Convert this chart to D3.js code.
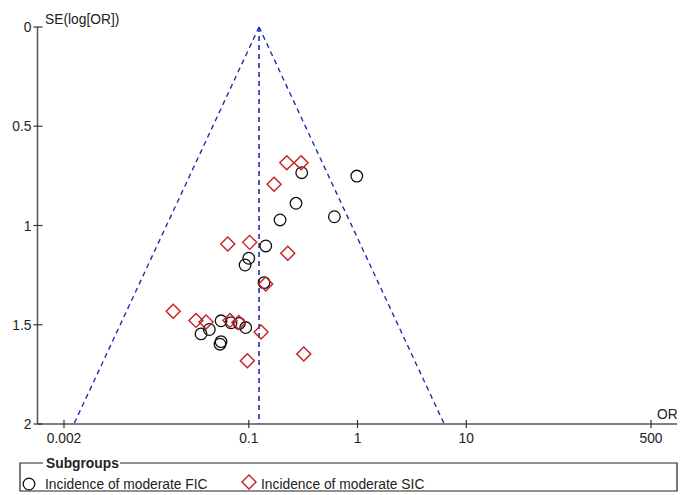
<!DOCTYPE html>
<html><head><meta charset="utf-8">
<script src="https://cdn.jsdelivr.net/npm/d3@7"></script>
<style>body{margin:0;background:#fff}svg{display:block}text{font-family:"Liberation Sans",Arial,sans-serif;fill:#222}</style>
</head><body><svg id="c" width="681" height="495"></svg>
<script>
const xTicks = [0.002, 0.1, 1, 10, 500];
const xTickLabels = ["0.002", "0.1", "1", "10", "500"];
const yTicks = [0, 0.5, 1, 1.5, 2];
const yTickLabels = ["0", "0.5", "1", "1.5", "2"];
const seriesNames = ["Incidence of moderate FIC", "Incidence of moderate SIC"];
const pooledOR = 0.1244;
const ficOR = [0.307,0.985,0.272,0.613,0.194,0.1433,0.100,0.0925,0.1383,0.0556,0.0687,0.0819,0.0938,0.0434,0.0364,0.0556,0.0544];
const ficSE = [0.734,0.751,0.888,0.956,0.972,1.103,1.165,1.199,1.288,1.480,1.490,1.493,1.514,1.524,1.546,1.585,1.598];
const sicOR = [0.2237,0.303,0.171,0.0641,0.102,0.2285,0.1433,0.0202,0.0327,0.0405,0.0672,0.0810,0.1298,0.0971,0.3206];
const sicSE = [0.684,0.684,0.792,1.093,1.085,1.140,1.295,1.432,1.478,1.486,1.478,1.489,1.537,1.681,1.647];

const svg = d3.select("#c");
const fs = 13.8;
const x0 = 37.5, yTop = 27, yBot = 424, xRight = 677;
const x = d3.scaleLog().domain([0.002, 500]).range([64, 651]);
const y = d3.scaleLinear().domain([0, 2]).range([yTop, yBot]);

// funnel
const blue = "#1f2fb0";
const z = 1.96;
const pLeft = pooledOR * Math.exp(-z * 2), pRight = pooledOR * Math.exp(z * 2);
const dash = "5,4";
svg.append("line").attr("x1", x(pooledOR)).attr("y1", y(0)).attr("x2", x(pooledOR)).attr("y2", y(2))
  .attr("stroke", blue).attr("stroke-width", 1.6).attr("stroke-dasharray", dash);
svg.append("line").attr("x1", x(pooledOR)).attr("y1", y(0)).attr("x2", x(pLeft)).attr("y2", y(2))
  .attr("stroke", blue).attr("stroke-width", 1.4).attr("stroke-dasharray", dash);
svg.append("line").attr("x1", x(pooledOR)).attr("y1", y(0)).attr("x2", x(pRight)).attr("y2", y(2))
  .attr("stroke", blue).attr("stroke-width", 1.4).attr("stroke-dasharray", dash);

// axes
const axCol = "#555";
svg.append("line").attr("x1", x0).attr("y1", yTop).attr("x2", x0).attr("y2", yBot).attr("stroke", axCol).attr("stroke-width", 1.5);
svg.append("line").attr("x1", x0).attr("y1", yBot).attr("x2", xRight).attr("y2", yBot).attr("stroke", axCol).attr("stroke-width", 1.5);
xTicks.forEach((t, i) => {
  svg.append("line").attr("x1", x(t)).attr("x2", x(t)).attr("y1", yBot - 4).attr("y2", yBot + 4).attr("stroke", "#333").attr("stroke-width", 1.2);
  svg.append("text").attr("x", x(t)).attr("y", yBot + 19).attr("text-anchor", "middle").attr("font-size", fs).text(xTickLabels[i]);
});
yTicks.forEach((t, i) => {
  svg.append("line").attr("x1", x0 - 4).attr("x2", x0 + 5).attr("y1", y(t)).attr("y2", y(t)).attr("stroke", "#333").attr("stroke-width", 1.2);
  svg.append("text").attr("x", x0 - 6).attr("y", y(t) + 5).attr("text-anchor", "end").attr("font-size", fs).text(yTickLabels[i]);
});
svg.append("text").attr("x", 45).attr("y", 24).attr("font-size", fs).text("SE(log[OR])");
svg.append("text").attr("x", 657).attr("y", 419).attr("font-size", fs).text("OR");

// points
const red = "#c42020";
const diamond = (cx, cy, r) => `M${cx},${cy - r}L${cx + r},${cy}L${cx},${cy + r}L${cx - r},${cy}Z`;
svg.append("g").selectAll("circle").data(ficOR.map((o, i) => [o, ficSE[i]])).join("circle")
  .attr("cx", d => x(d[0])).attr("cy", d => y(d[1])).attr("r", 5.8)
  .attr("fill", "none").attr("stroke", "#111").attr("stroke-width", 1.3);
svg.append("g").selectAll("path").data(sicOR.map((o, i) => [o, sicSE[i]])).join("path")
  .attr("d", d => diamond(x(d[0]), y(d[1]), 7))
  .attr("fill", "none").attr("stroke", red).attr("stroke-width", 1.4);

// legend
const lg = svg.append("g");
const lx1 = 20, lx2 = 677, ly1 = 463, ly2 = 491;
lg.append("path").attr("d", `M43,${ly1}H${lx1}V${ly2}H${lx2}V${ly1}H120`).attr("fill", "none").attr("stroke", "#222").attr("stroke-width", 1.2);
lg.append("text").attr("x", 46).attr("y", 467.5).attr("font-size", fs).attr("font-weight", "bold").text("Subgroups");
lg.append("circle").attr("cx", 29).attr("cy", 484).attr("r", 5.8).attr("fill", "none").attr("stroke", "#111").attr("stroke-width", 1.3);
lg.append("text").attr("x", 45).attr("y", 489).attr("font-size", fs).text(seriesNames[0]);
lg.append("path").attr("d", diamond(249, 482, 7)).attr("fill", "none").attr("stroke", red).attr("stroke-width", 1.4);
lg.append("text").attr("x", 261).attr("y", 489).attr("font-size", fs).text(seriesNames[1]);
</script></body></html>
